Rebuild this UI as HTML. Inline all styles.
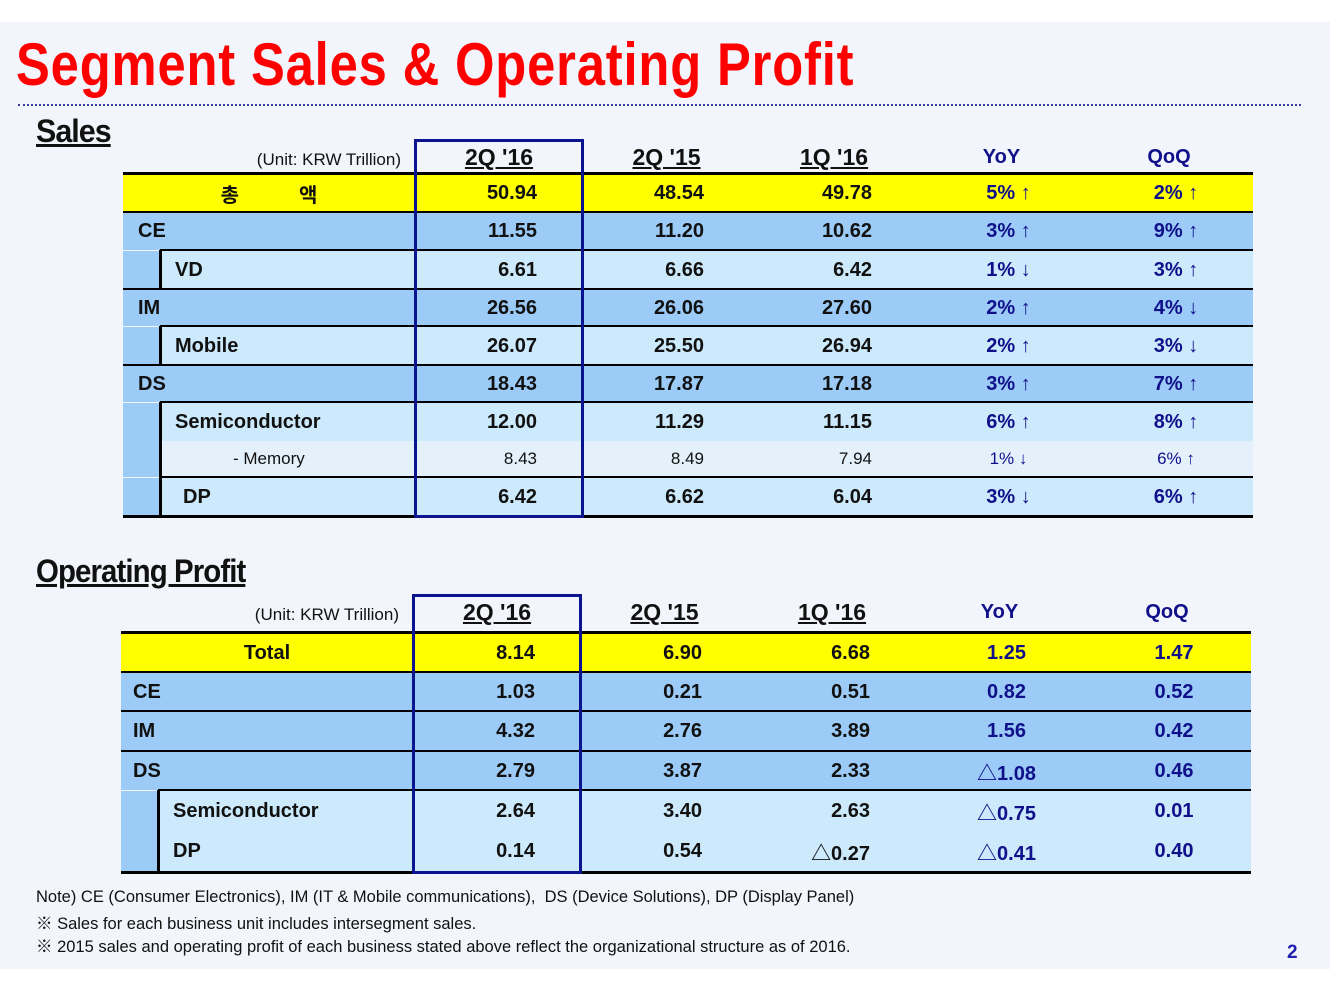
<!DOCTYPE html>
<html><head><meta charset="utf-8">
<style>
body{margin:0;width:1332px;height:1000px;background:#fff;position:relative;overflow:hidden;font-family:"Liberation Sans","Noto Sans CJK KR",sans-serif;}
#slide{position:absolute;left:0;top:22px;width:1330px;height:947px;background:#f2f5fb;}
.abs{position:absolute;}
.title{left:16px;top:30px;font-size:60px;font-weight:bold;color:#ff0000;transform:scaleX(0.845);transform-origin:left top;white-space:nowrap;letter-spacing:1px;}
.rule{left:18px;top:104px;width:1283px;height:0;border-top:2px dotted #3a3aa0;}
.sec{font-weight:bold;font-size:32px;text-decoration:underline;color:#111;transform:scaleX(0.9);transform-origin:left top;white-space:nowrap;letter-spacing:-1px;}
.cell{position:absolute;box-sizing:border-box;font-size:20px;font-weight:bold;color:#111;white-space:nowrap;display:flex;align-items:center;}
.hdr{position:absolute;font-size:23px;font-weight:bold;text-decoration:underline;color:#111;text-align:center;}
.hdrb{position:absolute;font-size:20px;font-weight:bold;color:#10108a;text-align:center;}
.unit{position:absolute;font-size:17px;color:#111;text-align:right;white-space:nowrap;}
.line{position:absolute;background:#000;height:3px;}
.box{position:absolute;border:3px solid #0a148f;box-sizing:border-box;}
.note{position:absolute;left:36px;font-size:16.5px;color:#111;white-space:nowrap;}
</style></head><body>
<div id="slide"></div>
<div class="abs title">Segment Sales &amp; Operating Profit</div>
<div class="abs rule"></div>
<div class="abs sec" style="left:36px;top:113px;transform:scaleX(0.95)">Sales</div>
<div class="abs sec" style="left:36px;top:553px;transform:scaleX(0.92)">Operating Profit</div>
<div id="tables"></div>
<div class="note" style="top:888px">Note) CE (Consumer Electronics), IM (IT &amp; Mobile communications),&nbsp; DS (Device Solutions), DP (Display Panel)</div>
<div class="note" style="top:910px">※ Sales for each business unit includes intersegment sales.</div>
<div class="note" style="top:933px">※ 2015 sales and operating profit of each business stated above reflect the organizational structure as of 2016.</div>
<div class="abs" style="left:1287px;top:942px;font-size:19px;font-weight:bold;color:#2020b0">2</div>
<script>
const headers=["2Q '16","2Q '15","1Q '16","YoY","QoQ"];
const salesLabels=["총　　　액","CE","VD","IM","Mobile","DS","Semiconductor","- Memory","DP"];
const sales2Q16=["50.94","11.55","6.61","26.56","26.07","18.43","12.00","8.43","6.42"];
const sales2Q15=["48.54","11.20","6.66","26.06","25.50","17.87","11.29","8.49","6.62"];
const sales1Q16=["49.78","10.62","6.42","27.60","26.94","17.18","11.15","7.94","6.04"];
const salesYoY=["5% ↑","3% ↑","1% ↓","2% ↑","2% ↑","3% ↑","6% ↑","1% ↓","3% ↓"];
const salesQoQ=["2% ↑","9% ↑","3% ↑","4% ↓","3% ↓","7% ↑","8% ↑","6% ↑","6% ↑"];
const opLabels=["Total","CE","IM","DS","Semiconductor","DP"];
const op2Q16=["8.14","1.03","4.32","2.79","2.64","0.14"];
const op2Q15=["6.90","0.21","2.76","3.87","3.40","0.54"];
const op1Q16=["6.68","0.51","3.89","2.33","2.63","△0.27"];
const opYoY=["1.25","0.82","1.56","△1.08","△0.75","△0.41"];
const opQoQ=["1.47","0.52","0.42","0.46","0.01","0.40"];

const root=document.getElementById('tables');
const Y='#ffff00',M='#9bcbf6',L='#cdeafc',W='#e4f1fb';
function mk(cls,css,txt,name){const d=document.createElement('div');d.className=cls;d.style.cssText=css;if(txt!==undefined)d.textContent=txt;


root.appendChild(d);return d;}
function drawTable(cfg){
  const x0=cfg.x,cols=cfg.cols;const right=cols[5];
  mk('unit',`left:${x0}px;width:${cols[0]-x0-14}px;top:${cfg.hy+8}px;`,'(Unit: KRW Trillion)',cfg.p+'-unit-label');
  headers.forEach((h,i)=>{mk(i<3?'hdr':'hdrb',`left:${cols[i]}px;width:${cols[i+1]-cols[i]}px;top:${cfg.hy+(i<3?2:4)}px;`,h,cfg.p+'-header-'+i);});
  mk('line',`left:${x0}px;width:${right-x0}px;top:${cfg.rows[0].y-3}px;`,undefined,cfg.p+'-top-rule');
  const series=cfg.series;
  cfg.rows.forEach((r,k)=>{
    const lab=cfg.labels[k];
    const lx=r.ind?x0+37:x0;
    if(r.ind) mk('cell',`left:${x0}px;width:37px;top:${r.y}px;height:${r.h}px;background:${M};`,undefined,cfg.p+'-indent-'+k);
    const fs=r.small?'font-weight:normal;font-size:17px;':'';
    mk('cell',`left:${lx}px;width:${cols[0]-lx}px;top:${r.y}px;height:${r.h}px;background:${r.c};padding-left:${r.pad}px;${r.center?'justify-content:center;':''}${fs}`,lab,cfg.p+'-label-'+k);
    for(let i=0;i<5;i++){
      const v=series[i][k];
      const al=i<3?`justify-content:flex-end;padding-right:46px;`:`justify-content:center;padding-left:14px;color:#10108a;`;
      mk('cell',`left:${cols[i]}px;width:${cols[i+1]-cols[i]}px;top:${r.y}px;height:${r.h}px;background:${r.c};${al}${fs}`,v,cfg.p+'-value-'+k+'-'+i);
    }
    if(r.line!==undefined){
      const lxx=r.line?x0+37:x0;
      mk('line',`left:${lxx}px;width:${right-lxx}px;top:${r.y+r.h-1}px;`,undefined,cfg.p+'-rule-'+k);
    }
    if(r.ind) mk('line',`left:${x0+36}px;width:3px;top:${r.y-1}px;height:${r.h+1}px;`,undefined,cfg.p+'-vrule-'+k);
  });
  const last=cfg.rows[cfg.rows.length-1];
  mk('box',`left:${cols[0]-1}px;width:${cols[1]-cols[0]+2}px;top:${cfg.hy-3}px;height:${last.y+last.h-cfg.hy+5}px;`,undefined,cfg.p+'-highlight-box');
}
drawTable({p:'sales',x:123,cols:[415,583,750,918,1085,1253],hy:142,labels:salesLabels,
 series:[sales2Q16,sales2Q15,sales1Q16,salesYoY,salesQoQ],
 rows:[
  {y:175,h:37,c:Y,center:1,pad:0,line:0},
  {y:213,h:37,c:M,pad:15,line:1},
  {y:251,h:38,c:L,ind:1,pad:15,line:0},
  {y:290,h:36,c:M,pad:15,line:1},
  {y:327,h:38,c:L,ind:1,pad:15,line:0},
  {y:366,h:36,c:M,pad:15,line:1},
  {y:403,h:38,c:L,ind:1,pad:15},
  {y:441,h:36,c:W,ind:1,pad:73,small:1,line:1},
  {y:478,h:38,c:L,ind:1,pad:23,line:0}
 ]});
drawTable({p:'op',x:121,cols:[413,581,748,916,1083,1251],hy:597,labels:opLabels,
 series:[op2Q16,op2Q15,op1Q16,opYoY,opQoQ],
 rows:[
  {y:634,h:38,c:Y,center:1,pad:0,line:0},
  {y:673,h:38,c:M,pad:12,line:0},
  {y:712,h:39,c:M,pad:12,line:0},
  {y:752,h:38,c:M,pad:12,line:1},
  {y:791,h:40,c:L,ind:1,pad:15},
  {y:831,h:41,c:L,ind:1,pad:15,line:0}
 ]});
</script>
</body></html>
